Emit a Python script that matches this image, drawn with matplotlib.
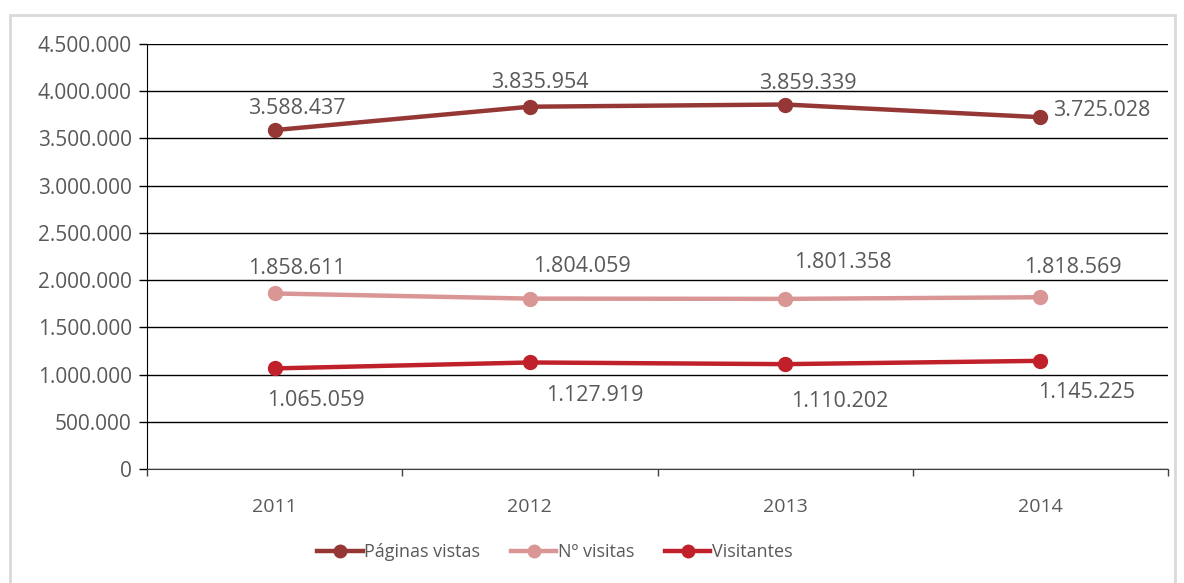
import matplotlib
matplotlib.use("Agg")
import matplotlib.pyplot as plt
from matplotlib.patches import Rectangle
from matplotlib.lines import Line2D

years = ["2011", "2012", "2013", "2014"]
paginas_vistas = [3588437, 3835954, 3859339, 3725028]
num_visitas = [1858611, 1804059, 1801358, 1818569]
visitantes = [1065059, 1127919, 1110202, 1145225]
series_names = ["Páginas vistas", "Nº visitas", "Visitantes"]
y_ticks = [0, 500000, 1000000, 1500000, 2000000, 2500000, 3000000, 3500000, 4000000, 4500000]

COLORS = ["#953735", "#D99694", "#C0202A"]
TEXT = "#595959"
plt.rcParams["font.family"] = ["Open Sans", "DejaVu Sans"]


def fmt(v):
    return f"{v:,}".replace(",", ".")


# label offsets in pixels (dx, dy, ha) per series
offsets = [
    [(22, 22, "center"), (10, 24, "center"), (23, 21, "center"), (13, 7, "left")],
    [(22, 25, "center"), (52, 32, "center"), (58, 36, "center"), (32, 30, "center")],
    [(41, -32, "center"), (65, -33, "center"), (55, -37, "center"), (46, -32, "center")],
]

fig = plt.figure(figsize=(11.84, 5.83), dpi=100)
fig.patches.append(Rectangle((10 / 1184, -0.1), 1165 / 1184, 1.1 - 15 / 583,
                             transform=fig.transFigure, fill=False,
                             edgecolor="#d9d9d9", lw=2))
ax = fig.add_axes([147 / 1184, 114 / 583, 1021 / 1184, 425 / 583])

x = list(range(len(years)))
all_series = [paginas_vistas, num_visitas, visitantes]
for vals, name, color, offs in zip(all_series, series_names, COLORS, offsets):
    ax.plot(x, vals, color=color, lw=3.2, marker="o", markersize=10,
            label=name, zorder=3)
    for xi, v, (dx, dy, ha) in zip(x, vals, offs):
        ax.annotate(fmt(v), (xi, v), xytext=(dx, dy), textcoords="offset pixels",
                    ha=ha, va="center", fontsize=15.5, color=TEXT)

ax.set_xlim(-0.5, 3.5)
ax.set_ylim(0, 4500000)
ax.set_yticks(y_ticks)
ax.set_yticklabels([fmt(t) for t in y_ticks])
ax.set_xticks(x)
ax.set_xticklabels(years)
ax.set_xticks([-0.5, 0.5, 1.5, 2.5, 3.5], minor=True)
ax.tick_params(axis="x", which="major", length=0, pad=21, labelsize=14, labelcolor=TEXT)
ax.tick_params(axis="x", which="minor", length=5, color="#404040", width=1)
ax.tick_params(axis="y", length=6, width=1, pad=5, labelsize=15, labelcolor=TEXT)
ax.grid(axis="y", color="black", lw=1)
ax.set_axisbelow(True)
for s in ["top", "right"]:
    ax.spines[s].set_visible(False)
ax.spines["left"].set_color("black")
ax.spines["bottom"].set_color("#404040")

handles = [Line2D([], [], color=c, lw=3.2, marker="o", markersize=9) for c in COLORS]
fig.legend(handles, series_names, loc="center", bbox_to_anchor=(555 / 1184, 31 / 583),
           ncol=3, frameon=False, fontsize=13, labelcolor=TEXT,
           handlelength=2.5, handletextpad=0.1, columnspacing=1.7)

fig.savefig("out.png", dpi=100, facecolor="white")
